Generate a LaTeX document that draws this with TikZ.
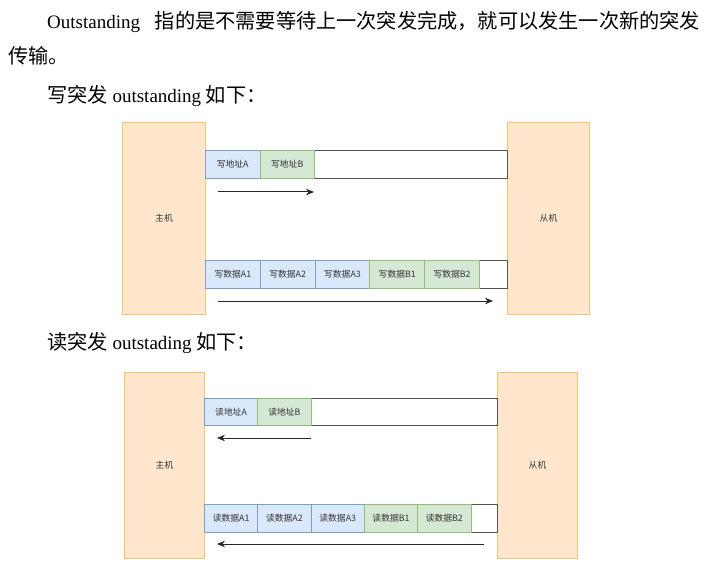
\documentclass[tikz,border=0pt]{standalone}
\usepackage{fontspec}
\setmainfont{Liberation Serif}
\newfontfamily\cjk{Noto Sans CJK SC}
\usetikzlibrary{arrows.meta}
\definecolor{hostfill}{HTML}{FFE6CC}
\definecolor{hostdraw}{HTML}{F0C672}
\definecolor{bluefill}{HTML}{DAE8FC}
\definecolor{bluedraw}{HTML}{7F9CC8}
\definecolor{greenfill}{HTML}{D5E8D4}
\definecolor{greendraw}{HTML}{92BE78}
\definecolor{chandraw}{HTML}{555555}
\definecolor{labeltext}{HTML}{333333}
\newcommand\zh[1]{{\cjk\fontsize{20.2}{22}\selectfont #1}}
\newcommand\lat[1]{{\fontsize{19}{22}\selectfont #1}}
\begin{document}
\begin{tikzpicture}[x=1pt,y=-1pt,
  lbl/.style={font=\cjk\fontsize{8.8}{10}\selectfont, text=labeltext},
  hostbox/.style={lbl, draw=hostdraw, fill=hostfill, line width=1pt, anchor=north west, inner sep=0pt},
  chan/.style={draw=chandraw, fill=white, line width=1.3pt, anchor=north west, inner sep=0pt},
  bcell/.style={lbl, draw=bluedraw, fill=bluefill, line width=0.9pt, anchor=north west, inner sep=0pt},
  gcell/.style={lbl, draw=greendraw, fill=greenfill, line width=0.9pt, anchor=north west, inner sep=0pt},
  flow/.style={draw=black!85, line width=1pt, -{Stealth[length=8pt,width=6.5pt]}},
  para/.style={anchor=base west, inner sep=0pt}
]
\useasboundingbox[fill=white] (0,0) rectangle (704,588);

% ---- text ----
\node[para] (t1) at (47,28.6) {\hbox to 653pt{\lat{Outstanding}\hfill\zh{指的是不需要等待上一次突发完成，就可以发生一次新的突发}}};
\node[para] (t2) at (8,64) {\zh{传输。}};
\node[para] (t3) at (47,103) {\zh{写突发}\lat{ outstanding }\zh{如下：}};
\node[para] (t4) at (47,349) {\zh{读突发}\lat{ outstading }\zh{如下：}};

% ---- write burst ----
\node[hostbox, minimum width=83pt, minimum height=192pt] (h1) at (122,122) {主机};
\node[hostbox, minimum width=82pt, minimum height=192pt] (s1) at (507,122) {从机};

\node[chan, minimum width=302pt, minimum height=28pt] (wa) at (205,150) {};
\node[bcell, minimum width=54.5pt, minimum height=28pt] (wa1) at (205,150) {写地址A};
\node[gcell, minimum width=54.5pt, minimum height=28pt] (wa2) at (259.5,150) {写地址B};

\coordinate (wa-s) at (218,192);
\coordinate (wa-e) at (314,192);
\draw[flow] (wa-s) -- (wa-e);

\node[chan, minimum width=302pt, minimum height=28pt] (wd) at (205,260) {};
\node[bcell, minimum width=54.8pt, minimum height=28pt] (wd1) at (205,260) {写数据A1};
\node[bcell, minimum width=54.8pt, minimum height=28pt] (wd2) at (259.8,260) {写数据A2};
\node[bcell, minimum width=54.8pt, minimum height=28pt] (wd3) at (314.6,260) {写数据A3};
\node[gcell, minimum width=54.8pt, minimum height=28pt] (wd4) at (369.4,260) {写数据B1};
\node[gcell, minimum width=54.8pt, minimum height=28pt] (wd5) at (424.2,260) {写数据B2};

\coordinate (wd-s) at (218,301);
\coordinate (wd-e) at (493,301);
\draw[flow] (wd-s) -- (wd-e);

% ---- read burst ----
\node[hostbox, minimum width=80pt, minimum height=186pt] (h2) at (124,372) {主机};
\node[hostbox, minimum width=80pt, minimum height=186pt] (s2) at (497,372) {从机};

\node[chan, minimum width=293pt, minimum height=27pt] (ra) at (204,398) {};
\node[bcell, minimum width=53.3pt, minimum height=27pt] (ra1) at (204,398) {读地址A};
\node[gcell, minimum width=53.3pt, minimum height=27pt] (ra2) at (257.3,398) {读地址B};

\coordinate (ra-s) at (311,438);
\coordinate (ra-e) at (217,438);
\draw[flow] (ra-s) -- (ra-e);

\node[chan, minimum width=293pt, minimum height=28pt] (rd) at (204,504) {};
\node[bcell, minimum width=53.3pt, minimum height=28pt] (rd1) at (204,504) {读数据A1};
\node[bcell, minimum width=53.3pt, minimum height=28pt] (rd2) at (257.3,504) {读数据A2};
\node[bcell, minimum width=53.3pt, minimum height=28pt] (rd3) at (310.6,504) {读数据A3};
\node[gcell, minimum width=53.3pt, minimum height=28pt] (rd4) at (363.9,504) {读数据B1};
\node[gcell, minimum width=53.3pt, minimum height=28pt] (rd5) at (417.2,504) {读数据B2};

\coordinate (rd-s) at (484,544);
\coordinate (rd-e) at (217,544);
\draw[flow] (rd-s) -- (rd-e);
\end{tikzpicture}
\end{document}
